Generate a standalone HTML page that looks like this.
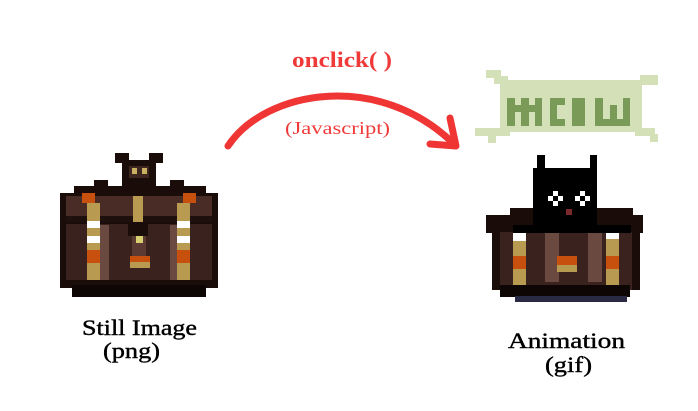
<!DOCTYPE html>
<html><head><meta charset="utf-8"><style>
html,body{margin:0;padding:0;background:#fff;width:698px;height:411px;overflow:hidden}
svg{display:block}
.s{font-family:"Liberation Serif",serif;fill:#000;stroke:#000;stroke-width:0.4}
.r{font-family:"Liberation Serif",serif;fill:#f03a3a}
</style></head><body>
<svg width="698" height="411" viewBox="0 0 698 411" shape-rendering="crispEdges">
<!-- Left chest -->
<g>
<rect x="115" y="153" width="14" height="10" fill="#1a0c08"/>
<rect x="149" y="153" width="14" height="10" fill="#1a0c08"/>
<rect x="122" y="160" width="34" height="30" fill="#1a0c08"/>
<rect x="129" y="166" width="20" height="12" fill="#3e2620"/>
<rect x="132" y="168" width="5" height="6" fill="#c9b060"/>
<rect x="142" y="168" width="5" height="6" fill="#c9b060"/>
<rect x="94" y="180" width="14" height="14" fill="#1a0c08"/>
<rect x="170" y="180" width="14" height="14" fill="#1a0c08"/>
<rect x="74" y="186" width="132" height="10" fill="#1a0c08"/>
<rect x="60" y="193" width="158" height="95" fill="#1a0c08"/>
<rect x="66" y="196" width="146" height="20" fill="#4a2c26"/>
<rect x="66" y="224" width="146" height="56" fill="#3a221e"/>
<rect x="95" y="225" width="14" height="55" fill="#6a4a40"/>
<rect x="170" y="225" width="14" height="55" fill="#6a4a40"/>
<rect x="132" y="226" width="14" height="40" fill="#5a3a32"/>
<rect x="66" y="216" width="146" height="6" fill="#1e100c"/>
<rect x="82" y="193" width="13" height="10" fill="#c8500e"/>
<rect x="183" y="193" width="13" height="10" fill="#c8500e"/>
<rect x="87" y="203" width="13" height="77" fill="#b89a50"/>
<rect x="177" y="203" width="13" height="77" fill="#b89a50"/>
<rect x="87" y="221" width="13" height="7" fill="#fff"/>
<rect x="177" y="221" width="13" height="7" fill="#fff"/>
<rect x="87" y="236" width="13" height="7" fill="#fff"/>
<rect x="177" y="236" width="13" height="7" fill="#fff"/>
<rect x="87" y="250" width="13" height="13" fill="#c8500e"/>
<rect x="177" y="250" width="13" height="13" fill="#c8500e"/>
<rect x="133" y="196" width="10" height="30" fill="#b89a50"/>
<rect x="128" y="222" width="20" height="14" fill="#1a0c08"/>
<rect x="136" y="236" width="7" height="7" fill="#d8d070"/>
<rect x="130" y="256" width="20" height="6" fill="#c8500e"/>
<rect x="130" y="262" width="20" height="6" fill="#b89a50"/>
<rect x="72" y="285" width="134" height="12" fill="#0e0604"/>
</g>
<!-- Right: banner -->
<g>
<rect x="500" y="80" width="142" height="52" fill="#d4e0b8"/>
<rect x="486" y="70" width="15" height="8" fill="#d4e0b8"/>
<rect x="494" y="76" width="14" height="8" fill="#d4e0b8"/>
<rect x="640" y="75" width="18" height="10" fill="#d4e0b8"/>
<rect x="475" y="128" width="35" height="8" fill="#d4e0b8"/>
<rect x="488" y="134" width="8" height="9" fill="#d4e0b8"/>
<rect x="635" y="128" width="20" height="8" fill="#d4e0b8"/>
<rect x="650" y="134" width="8" height="8" fill="#d4e0b8"/>
<g fill="#7a9a58">
<rect x="507" y="98" width="8" height="28"/><rect x="515" y="105" width="6" height="7"/><rect x="521" y="98" width="8" height="28"/><rect x="529" y="105" width="6" height="7"/><rect x="535" y="98" width="7" height="28"/>
<rect x="550" y="98" width="15" height="7"/><rect x="550" y="98" width="7" height="28"/><rect x="550" y="119" width="15" height="7"/>
<rect x="572" y="98" width="13" height="28"/>
<rect x="595" y="98" width="8" height="28"/><rect x="595" y="119" width="35" height="7"/><rect x="610" y="105" width="7" height="21"/><rect x="623" y="98" width="7" height="28"/>
</g>
</g>
<!-- Right chest -->
<g>
<rect x="510" y="208" width="123" height="12" fill="#1a0c08"/>
<rect x="486" y="215" width="157" height="18" fill="#1a0c08"/>
<rect x="492" y="232" width="148" height="58" fill="#3a221e"/>
<rect x="492" y="232" width="8" height="58" fill="#1a0c08"/>
<rect x="632" y="232" width="8" height="58" fill="#1a0c08"/>
<rect x="545" y="232" width="14" height="50" fill="#6a4a40"/>
<rect x="588" y="232" width="14" height="50" fill="#6a4a40"/>
<rect x="513" y="232" width="13" height="58" fill="#b89a50"/>
<rect x="606" y="232" width="13" height="58" fill="#b89a50"/>
<rect x="513" y="233" width="13" height="8" fill="#fff"/>
<rect x="606" y="233" width="13" height="6" fill="#fff"/>
<rect x="513" y="256" width="13" height="13" fill="#c8500e"/>
<rect x="606" y="256" width="13" height="13" fill="#c8500e"/>
<rect x="557" y="256" width="20" height="9" fill="#c8500e"/>
<rect x="557" y="265" width="20" height="7" fill="#b89a50"/>
<rect x="500" y="285" width="130" height="12" fill="#0e0604"/>
<rect x="515" y="296" width="112" height="6" fill="#2a2a44"/>
<!-- cat -->
<rect x="537" y="155" width="8" height="15" fill="#000"/>
<rect x="590" y="155" width="7" height="15" fill="#000"/>
<rect x="533" y="168" width="64" height="58" fill="#000"/>
<rect x="513" y="225" width="118" height="8" fill="#000"/>
<g fill="#fff">
<rect x="553" y="191" width="5" height="5"/><rect x="548" y="196" width="5" height="5"/><rect x="558" y="196" width="5" height="5"/><rect x="553" y="201" width="5" height="5"/>
<rect x="580" y="191" width="5" height="5"/><rect x="575" y="196" width="5" height="5"/><rect x="585" y="196" width="5" height="5"/><rect x="580" y="201" width="5" height="5"/>
</g>
<rect x="566" y="209" width="6" height="6" fill="#7a2a2a"/>
</g>
<!-- arrow -->
<g shape-rendering="auto" fill="none" stroke="#f03535" stroke-width="7" stroke-linecap="round" stroke-linejoin="round">
<path d="M228,146 C265,90 380,70 455,145"/>
<path d="M430,144 L456,146 L450,118"/>
</g>
<text class="r" x="292" y="67" font-size="22" font-weight="bold" textLength="100" lengthAdjust="spacingAndGlyphs">onclick( )</text>
<text class="r" x="285" y="134" font-size="18" textLength="105" lengthAdjust="spacingAndGlyphs">(Javascript)</text>
<text class="s" x="82" y="335" font-size="22" textLength="115" lengthAdjust="spacingAndGlyphs">Still Image</text>
<text class="s" x="103" y="358" font-size="22" textLength="57" lengthAdjust="spacingAndGlyphs">(png)</text>
<text class="s" x="508" y="348" font-size="22" textLength="117" lengthAdjust="spacingAndGlyphs">Animation</text>
<text class="s" x="545" y="372" font-size="22" textLength="47" lengthAdjust="spacingAndGlyphs">(gif)</text>
</svg>
</body></html>
